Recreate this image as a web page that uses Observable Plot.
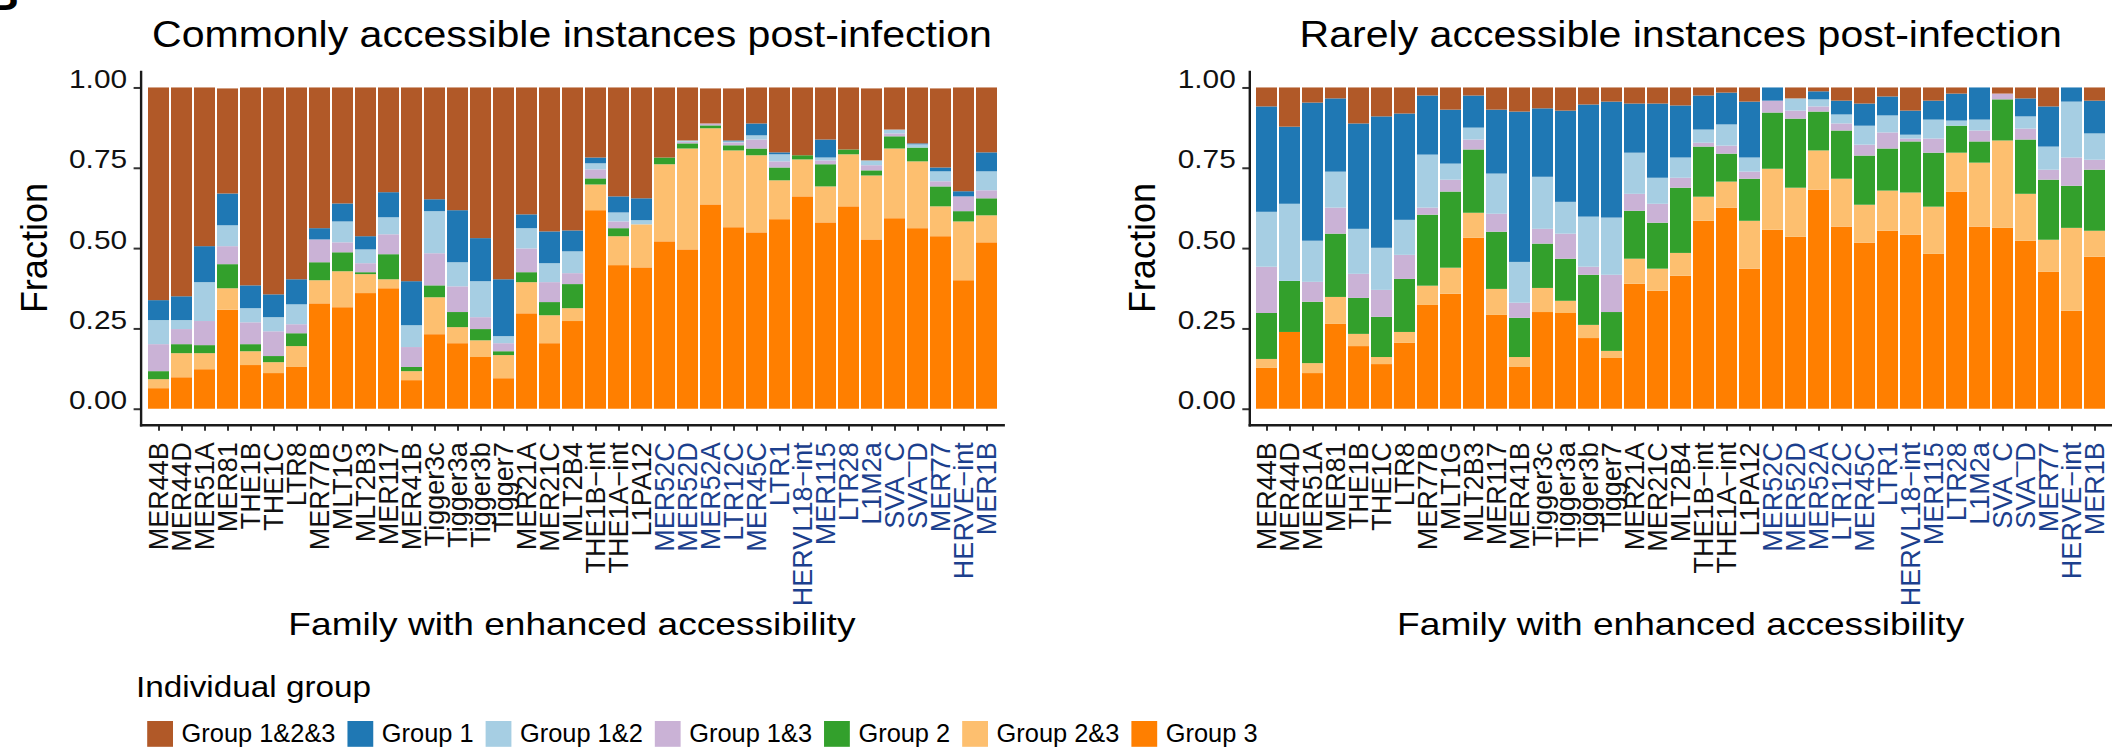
<!DOCTYPE html>
<html>
<head>
<meta charset="utf-8">
<script src="https://cdn.jsdelivr.net/npm/d3@7"></script>
<script src="https://cdn.jsdelivr.net/npm/@observablehq/plot@0.6"></script>
<style>
  body { margin: 0; background: #fff; font-family: "Liberation Sans", Arial, sans-serif; }
  #fig { position: relative; width: 2112px; height: 749px; overflow: hidden; background: #fff; }
  #fig svg { position: absolute; top: 0; overflow: visible; }
</style>
</head>
<body>
<div id="fig"></div>
<script>
// Repeat families, in display order; the last 15 are highlighted in blue.
const families = [
  "MER44B", "MER44D", "MER51A", "MER81", "THE1B", "THE1C", "LTR8", "MER77B", "MLT1G", "MLT2B3",
  "MER117", "MER41B", "Tigger3c", "Tigger3a", "Tigger3b", "Tigger7", "MER21A", "MER21C", "MLT2B4",
  "THE1B−int", "THE1A−int", "L1PA12",
  "MER52C", "MER52D", "MER52A", "LTR12C", "MER45C", "LTR1", "HERVL18−int", "MER115", "LTR28",
  "L1M2a", "SVA_C", "SVA_D", "MER77", "HERVE−int", "MER1B"
];
const highlightedFamilies = families.slice(22);
const plainFamilies = families.slice(0, 22);

// Individual groups, legend order, and their colours.
const groups = ["Group 1&2&3", "Group 1", "Group 1&2", "Group 1&3", "Group 2", "Group 2&3", "Group 3"];
const groupColors = ["#b15928", "#1f78b4", "#a6cee3", "#cab2d6", "#33a02c", "#fdbf6f", "#ff7f00"];
// Stacking order, bottom to top.
const stackOrder = ["Group 3", "Group 2&3", "Group 2", "Group 1&3", "Group 1&2", "Group 1", "Group 1&2&3"];

const yTicks = [0, 0.25, 0.5, 0.75, 1];

// Commonly accessible instances post-infection: fraction per group, one value per family.
const commonG3   = [0.064,0.098,0.123,0.308,0.136,0.111,0.130,0.328,0.316,0.360,0.375,0.089,0.232,0.204,0.161,0.095,0.297,0.204,0.273,0.618,0.447,0.440,0.521,0.496,0.636,0.565,0.549,0.590,0.661,0.580,0.630,0.527,0.593,0.562,0.537,0.400,0.518];
const commonG23  = [0.028,0.075,0.050,0.067,0.043,0.034,0.065,0.072,0.112,0.059,0.028,0.028,0.115,0.050,0.052,0.072,0.097,0.087,0.040,0.080,0.090,0.134,0.240,0.314,0.237,0.239,0.240,0.121,0.115,0.112,0.162,0.199,0.217,0.208,0.093,0.183,0.084];
const commonG2   = [0.025,0.028,0.025,0.075,0.022,0.019,0.040,0.056,0.059,0.006,0.078,0.013,0.037,0.047,0.035,0.012,0.031,0.041,0.075,0.019,0.025,0.000,0.021,0.016,0.009,0.016,0.021,0.040,0.013,0.069,0.015,0.016,0.038,0.043,0.062,0.032,0.053];
const commonG13  = [0.084,0.047,0.075,0.056,0.068,0.077,0.028,0.071,0.031,0.028,0.062,0.062,0.100,0.080,0.037,0.025,0.074,0.062,0.034,0.028,0.021,0.000,0.000,0.005,0.006,0.009,0.028,0.019,0.000,0.012,0.000,0.016,0.009,0.000,0.016,0.046,0.025];
const commonG12  = [0.075,0.028,0.121,0.065,0.044,0.044,0.062,0.000,0.065,0.043,0.053,0.068,0.131,0.075,0.112,0.022,0.063,0.059,0.068,0.019,0.028,0.013,0.000,0.004,0.000,0.003,0.013,0.022,0.000,0.009,0.000,0.015,0.012,0.010,0.031,0.000,0.059];
const commonG1   = [0.062,0.074,0.112,0.099,0.071,0.071,0.078,0.035,0.056,0.041,0.078,0.137,0.037,0.162,0.134,0.177,0.043,0.099,0.065,0.018,0.050,0.068,0.000,0.000,0.000,0.003,0.037,0.006,0.000,0.056,0.000,0.000,0.000,0.003,0.012,0.016,0.059];
const commonG123 = [0.662,0.650,0.494,0.327,0.616,0.644,0.597,0.438,0.361,0.463,0.326,0.603,0.348,0.382,0.469,0.597,0.395,0.448,0.445,0.218,0.339,0.345,0.218,0.165,0.109,0.162,0.112,0.202,0.211,0.162,0.193,0.224,0.131,0.174,0.246,0.323,0.202];

// Rarely accessible instances post-infection.
const rareG3   = [0.127,0.239,0.111,0.264,0.195,0.139,0.205,0.323,0.358,0.532,0.292,0.130,0.301,0.298,0.220,0.158,0.389,0.367,0.414,0.585,0.626,0.436,0.557,0.535,0.682,0.567,0.517,0.554,0.542,0.482,0.676,0.567,0.563,0.523,0.426,0.305,0.473];
const rareG23  = [0.028,0.000,0.031,0.084,0.038,0.022,0.034,0.060,0.081,0.078,0.081,0.031,0.075,0.038,0.041,0.022,0.078,0.069,0.071,0.075,0.081,0.149,0.190,0.153,0.122,0.149,0.118,0.125,0.131,0.147,0.121,0.199,0.272,0.146,0.100,0.258,0.081];
const rareG2   = [0.143,0.159,0.191,0.197,0.112,0.125,0.165,0.221,0.237,0.197,0.178,0.122,0.138,0.131,0.156,0.121,0.149,0.143,0.203,0.156,0.087,0.131,0.175,0.215,0.121,0.150,0.153,0.131,0.159,0.168,0.084,0.066,0.128,0.169,0.187,0.131,0.190];
const rareG13  = [0.144,0.000,0.062,0.081,0.075,0.084,0.075,0.022,0.037,0.031,0.056,0.047,0.046,0.078,0.025,0.116,0.053,0.059,0.031,0.012,0.025,0.022,0.037,0.025,0.016,0.022,0.034,0.050,0.009,0.044,0.000,0.034,0.018,0.034,0.031,0.088,0.031];
const rareG12  = [0.171,0.240,0.128,0.112,0.140,0.131,0.109,0.165,0.050,0.037,0.125,0.127,0.162,0.099,0.156,0.178,0.128,0.081,0.063,0.041,0.066,0.044,0.000,0.038,0.022,0.028,0.059,0.053,0.012,0.059,0.016,0.034,0.000,0.038,0.072,0.174,0.082];
const rareG1   = [0.328,0.240,0.430,0.228,0.328,0.409,0.331,0.184,0.168,0.100,0.199,0.468,0.213,0.284,0.349,0.361,0.153,0.231,0.162,0.106,0.099,0.174,0.041,0.000,0.025,0.043,0.069,0.059,0.075,0.059,0.084,0.100,0.000,0.056,0.125,0.044,0.102];
const rareG123 = [0.059,0.122,0.047,0.034,0.112,0.090,0.081,0.025,0.069,0.025,0.069,0.075,0.065,0.072,0.053,0.044,0.050,0.050,0.056,0.025,0.016,0.044,0.000,0.034,0.012,0.041,0.050,0.028,0.072,0.041,0.019,0.000,0.019,0.034,0.059,0.000,0.041];

const commonByGroup = {
  "Group 3": commonG3, "Group 2&3": commonG23, "Group 2": commonG2, "Group 1&3": commonG13,
  "Group 1&2": commonG12, "Group 1": commonG1, "Group 1&2&3": commonG123
};
const rareByGroup = {
  "Group 3": rareG3, "Group 2&3": rareG23, "Group 2": rareG2, "Group 1&3": rareG13,
  "Group 1&2": rareG12, "Group 1": rareG1, "Group 1&2&3": rareG123
};

// Long-format rows, emitted bottom-to-top so stackY keeps that order.
function toRows(byGroup) {
  const rows = [];
  for (const group of stackOrder) {
    byGroup[group].forEach((fraction, i) => rows.push({family: families[i], group, fraction}));
  }
  return rows;
}

const FONT = "Liberation Sans, Arial, sans-serif";
const WIDTH = 2112, HEIGHT = 749;
const frameTop = 71.4, frameBottom = 424.8;
const axisInk = "#1a1a1a";
const labelBlue = "#1c3f8d";

const panels = [
  {title: "Commonly accessible instances post-infection", rows: toRows(commonByGroup), left: 0, width: 1056, marginLeft: 140.6, marginRight: 52.8},
  {title: "Rarely accessible instances post-infection", rows: toRows(rareByGroup), left: 1056, width: 1056, marginLeft: 193.3, marginRight: 0}
];

const fig = document.getElementById("fig");

function familyAxis(ticks, color) {
  return Plot.axisX({
    ticks, anchor: "bottom", label: null, tickRotate: -90, tickSize: 6, tickPadding: 11,
    fontSize: 27, stroke: "#333", strokeWidth: 2, fill: color
  });
}

for (const p of panels) {
  const chart = Plot.plot({
    width: p.width,
    height: HEIGHT,
    marginLeft: p.marginLeft,
    marginRight: p.marginRight,
    marginTop: frameTop,
    marginBottom: HEIGHT - frameBottom,
    style: {fontFamily: FONT, background: "transparent", overflow: "visible"},
    x: {domain: families, paddingInner: 0.1, paddingOuter: 0.15, label: null},
    y: {domain: [-0.05, 1.05], label: null},
    color: {domain: groups, range: groupColors},
    marks: [
      Plot.barY(p.rows, Plot.stackY({x: "family", y: "fraction", fill: "group"})),
      Plot.axisY({
        ticks: yTicks, tickFormat: d3.format(".2f"), label: null, tickSize: 7, tickPadding: 7,
        fontSize: 25.5, stroke: "#333", strokeWidth: 2, fill: "#111"
      }),
      familyAxis(plainFamilies, "#111"),
      familyAxis(highlightedFamilies, labelBlue),
      Plot.frame({anchor: "left", stroke: axisInk, strokeWidth: 2.4}),
      Plot.frame({anchor: "bottom", stroke: axisInk, strokeWidth: 2.4})
    ]
  });
  chart.style.left = p.left + "px";
  // Widen the numeric tick labels slightly around their anchor point.
  chart.querySelectorAll('[aria-label="y-axis tick label"] text').forEach(t => {
    const tr = t.getAttribute("transform") || "";
    const x = +t.getAttribute("x") || 0, y = +t.getAttribute("y") || 0;
    t.removeAttribute("x"); t.removeAttribute("y");
    t.setAttribute("transform", `${tr} translate(${x},${y}) scale(1.17,1)`);
  });
  fig.appendChild(chart);
}

// Titles, axis titles and legend.
const overlay = d3.select(fig).append("svg")
  .attr("width", WIDTH).attr("height", HEIGHT)
  .style("left", "0px")
  .attr("font-family", FONT)
  .attr("fill", "#000");

function label(text, x, y, size, {anchor = "middle", sx = 1, rotate = 0, weight = "normal"} = {}) {
  return overlay.append("text")
    .attr("transform", `translate(${x},${y}) rotate(${rotate}) scale(${sx},1)`)
    .attr("text-anchor", anchor)
    .attr("font-size", size)
    .attr("font-weight", weight)
    .text(text);
}

// Panel letter, mostly cut off at the top edge.
label("B", -13, 10, 44, {anchor: "start", weight: "bold"});

for (const p of panels) {
  const x0 = p.left + p.marginLeft;
  const x1 = p.left + p.width - p.marginRight;
  const cx = (x0 + x1) / 2;
  label(p.title, cx, 46.7, 37, {sx: 1.11});
  label("Family with enhanced accessibility", cx, 635, 32, {sx: 1.16});
  label("Fraction", x0 - 94, (frameTop + frameBottom) / 2, 36, {rotate: -90});
}

// Legend
label("Individual group", 136, 696.7, 30, {anchor: "start", sx: 1.11});
let lx = 147.2;
const key = 25.8;
groups.forEach((g, i) => {
  overlay.append("rect").attr("x", lx).attr("y", 721).attr("width", key).attr("height", key).attr("fill", groupColors[i]);
  const t = overlay.append("text").attr("x", lx + key + 8.6).attr("y", 741.7)
    .attr("font-size", 25.4).text(g);
  lx = lx + key + 8.6 + t.node().getComputedTextLength() + 12;
});
</script>
</body>
</html>
